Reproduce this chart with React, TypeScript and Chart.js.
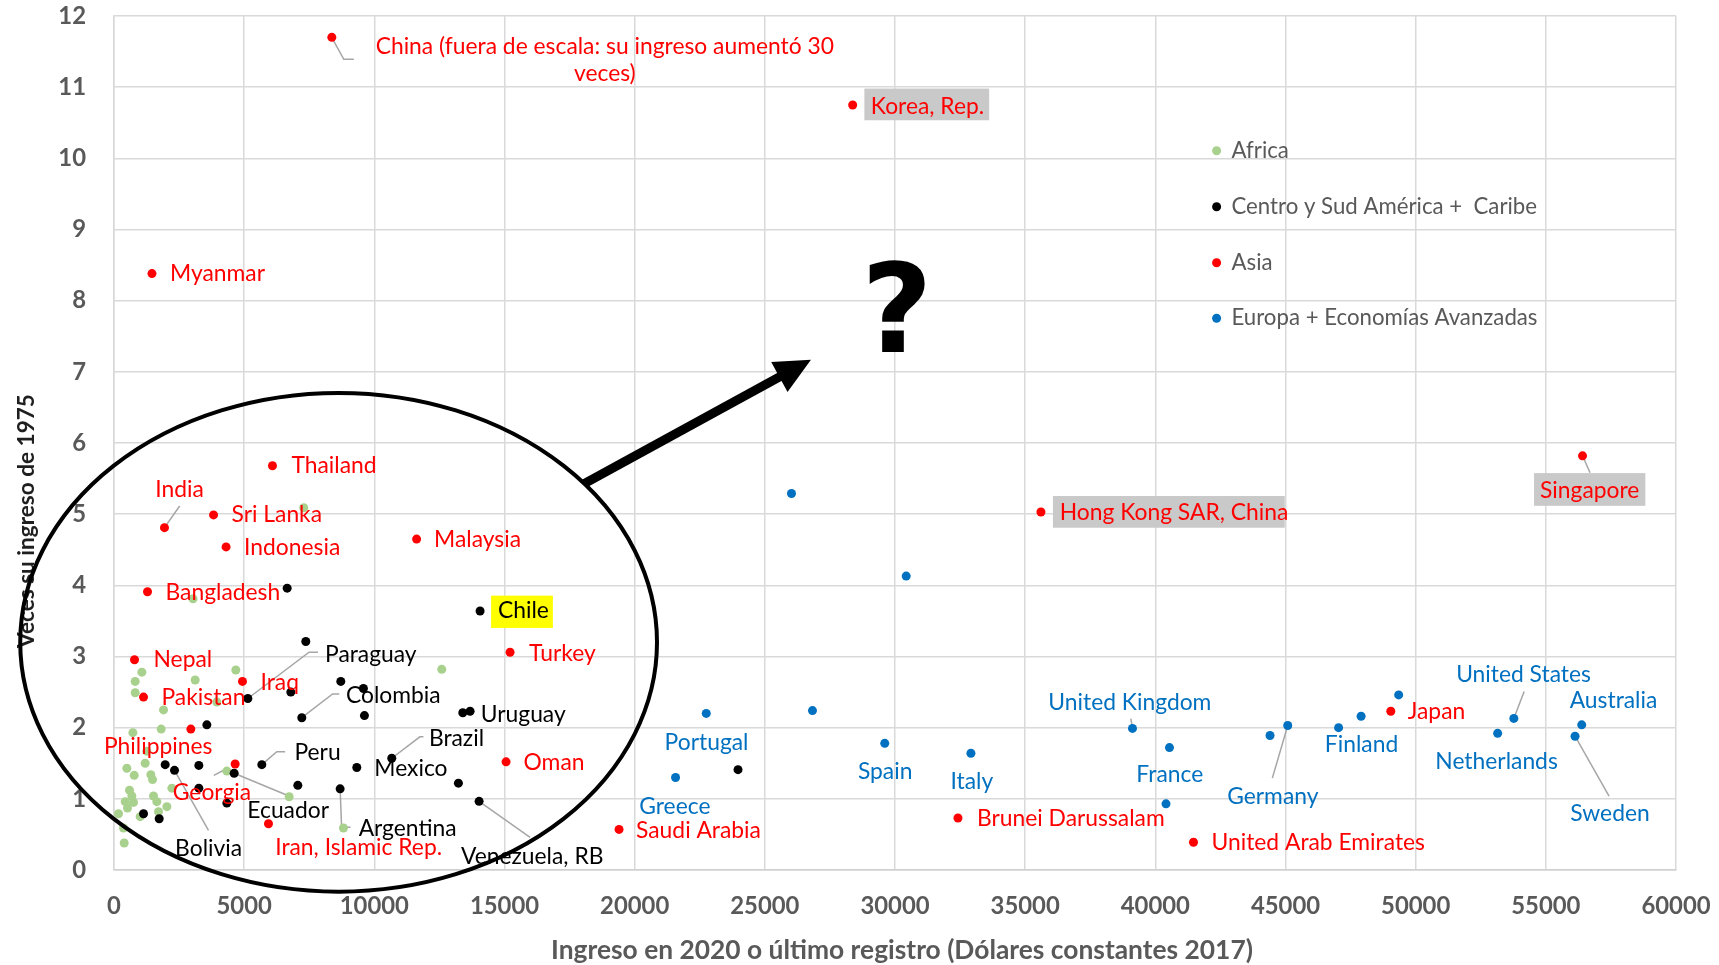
import React, { useEffect, useRef } from "react";
import { Chart, registerables } from "chart.js";

Chart.register(...registerables);

// ---------- axes ----------
const X_MIN = 0;
const X_MAX = 60000;
const X_STEP = 5000;
const Y_MIN = 0;
const Y_MAX = 12;
const Y_STEP = 1;
const X_TITLE = "Ingreso en 2020 o último registro (Dólares constantes 2017)";
const Y_TITLE = "Veces su ingreso de 1975";

// ---------- series ----------
const seriesNames = ["Africa", "Centro y Sud América +  Caribe", "Asia", "Europa + Economías Avanzadas"];
const seriesColors = ["#a9d18e", "#000000", "#ff0000", "#0070c0"];
const labelColors = ["#000000", "#000000", "#ff0000", "#0070c0"];

const africaIncome = [3036, 7288, 12590, 1070, 814, 814, 3118, 4680, 3950, 1902, 1812, 725, 1262, 1198, 494, 776, 1416, 1480, 4334, 2223, 6728, 8814, 596, 686, 430, 749, 518, 173, 1006, 365, 392, 1517, 1646, 2031, 1710];
const africaRatio = [3.81, 5.09, 2.82, 2.78, 2.65, 2.49, 2.67, 2.81, 2.36, 2.25, 1.98, 1.93, 1.67, 1.5, 1.43, 1.33, 1.34, 1.27, 1.39, 1.15, 1.03, 0.59, 1.12, 1.04, 0.96, 0.95, 0.87, 0.79, 0.75, 0.59, 0.38, 1.04, 0.96, 0.89, 0.82];
const africaNames: string[] = [];

const centroNames = ["Chile", "", "", "Paraguay", "", "", "", "Colombia", "", "", "Uruguay", "", "", "Bolivia", "", "Ecuador", "Peru", "Mexico", "Brazil", "", "", "Argentina", "", "", "Venezuela, RB", "", "", ""];
const centroIncome = [14062, 6652, 7368, 5141, 6792, 8712, 9581, 7214, 9620, 13398, 13678, 3567, 1966, 2324, 3259, 4616, 5678, 9326, 10670, 13229, 7061, 8686, 3259, 4334, 14024, 1134, 1736, 23970];
const centroRatio = [3.64, 3.96, 3.21, 2.41, 2.5, 2.65, 2.55, 2.14, 2.17, 2.21, 2.23, 2.04, 1.48, 1.4, 1.47, 1.36, 1.48, 1.44, 1.57, 1.22, 1.19, 1.14, 1.15, 0.94, 0.965, 0.79, 0.72, 1.41];

const asiaNames = ["China (fuera de escala: su ingreso aumentó 30\nveces)", "Korea, Rep.", "Myanmar", "Thailand", "India", "Sri Lanka", "Indonesia", "Malaysia", "Bangladesh", "Hong Kong SAR, China", "Singapore", "Turkey", "Nepal", "Iraq", "Pakistan", "Philippines", "Georgia", "Oman", "Iran, Islamic Rep.", "Saudi Arabia", "Brunei Darussalam", "United Arab Emirates", "Japan"];
const asiaIncome = [8367, 28374, 1459, 6087, 1939, 3824, 4305, 11624, 1287, 35606, 56410, 15214, 788, 4935, 1134, 2952, 4654, 15060, 5934, 19400, 32418, 41466, 49045];
const asiaRatio = [11.7, 10.75, 8.38, 5.68, 4.81, 4.99, 4.54, 4.65, 3.91, 5.03, 5.82, 3.06, 2.955, 2.65, 2.43, 1.98, 1.49, 1.52, 0.65, 0.57, 0.73, 0.39, 2.23];

const europaNames = ["", "", "Portugal", "", "Greece", "Spain", "Italy", "United Kingdom", "France", "", "", "Germany", "", "Finland", "", "Netherlands", "United States", "Australia", "Sweden"];
const europaIncome = [26024, 30430, 22750, 26830, 21570, 29606, 32916, 39122, 40543, 40410, 44406, 45086, 47040, 47904, 49347, 53149, 53771, 56378, 56122];
const europaRatio = [5.29, 4.13, 2.2, 2.24, 1.3, 1.78, 1.64, 1.99, 1.72, 0.93, 1.89, 2.03, 2.0, 2.16, 2.46, 1.92, 2.13, 2.04, 1.88];

// ---------- label layout (pixel offsets from the point) ----------
type LabelSpec = {
  dx: number;
  dy: number;
  align?: "left" | "center";
  leader?: number[][];
  box?: number[];
  boxColor?: string;
  lineH?: number;
};
const labelLayout: Record<string, LabelSpec> = {
  "China (fuera de escala: su ingreso aumentó 30\nveces)": { dx: 273, dy: 9.4, align: "center", lineH: 26.6, leader: [[1, 2], [12, 22], [22, 22]] },
  "Korea, Rep.": { dx: 18.2, dy: 1.3, box: [11.7, -16.4, 136.5, 15.3], boxColor: "#c9c9c9" },
  Myanmar: { dx: 18, dy: 0 },
  Thailand: { dx: 19, dy: 0 },
  India: { dx: 15, dy: -38.4, align: "center", leader: [[0, 0], [15.2, -21.7]] },
  "Sri Lanka": { dx: 18, dy: 0 },
  Indonesia: { dx: 18, dy: 1 },
  Malaysia: { dx: 17.5, dy: 0.7 },
  Bangladesh: { dx: 18, dy: 1 },
  "Hong Kong SAR, China": { dx: 18.8, dy: 0.7, box: [12, -16, 243.8, 15.7], boxColor: "#c9c9c9" },
  Singapore: { dx: 7.2, dy: 34.7, align: "center", box: [-48.5, 17.3, 62.8, 50], boxColor: "#c9c9c9", leader: [[0, 0], [7.5, 17]] },
  Turkey: { dx: 19, dy: 1 },
  Nepal: { dx: 19, dy: 0 },
  Iraq: { dx: 18, dy: 1 },
  Pakistan: { dx: 18, dy: 0.5 },
  Philippines: { dx: -32.7, dy: 17.4, align: "center" },
  Georgia: { dx: -23.2, dy: 29, align: "center", leader: [[-21.4, 11.4], [-7.1, 4]] },
  Oman: { dx: 17.5, dy: 1 },
  "Iran, Islamic Rep.": { dx: 6.7, dy: 23.7 },
  "Saudi Arabia": { dx: 17, dy: 1 },
  "Brunei Darussalam": { dx: 19, dy: 1 },
  "United Arab Emirates": { dx: 18, dy: 0.6 },
  Japan: { dx: 17, dy: 0.6 },
  Chile: { dx: 17.9, dy: 0, box: [11, -15.3, 72.8, 17], boxColor: "#ffff00" },
  Paraguay: { dx: 77.2, dy: -44, leader: [[0, 0], [61.2, -46.3], [70.1, -46.3]] },
  Colombia: { dx: 44.2, dy: -22, leader: [[0, 0], [30.8, -23.7], [37.5, -23.7]] },
  Uruguay: { dx: 10.7, dy: 3.3 },
  Brazil: { dx: 37.1, dy: -19.7, leader: [[0, 0], [28.1, -21.4], [31.7, -21.4]] },
  Peru: { dx: 32.6, dy: -12, leader: [[0, 0], [15, -13], [23.3, -13]] },
  Mexico: { dx: 17.5, dy: 1.3 },
  Ecuador: { dx: 54, dy: 37.4, align: "center", leader: [[0, 0], [53, 22]] },
  Bolivia: { dx: 34.1, dy: 78.7, align: "center", leader: [[0, 0], [34, 60]] },
  Argentina: { dx: 18.5, dy: 39.7, leader: [[0, 0], [1.5, 38.4], [10.4, 38.4]] },
  "Venezuela, RB": { dx: 53.1, dy: 55, align: "center", leader: [[0, 0], [51, 36]] },
  Portugal: { dx: 0.3, dy: 28.7, align: "center" },
  Greece: { dx: -0.7, dy: 28.7, align: "center" },
  Spain: { dx: 0.4, dy: 28.6, align: "center" },
  Italy: { dx: 0.9, dy: 28, align: "center" },
  "United Kingdom": { dx: -2.6, dy: -25.4, align: "center", leader: [[0, 0], [-1.6, -9.7]] },
  France: { dx: 0.3, dy: 27.3, align: "center" },
  Germany: { dx: -14.9, dy: 71, align: "center", leader: [[0, 0], [-15.4, 52.6]] },
  Finland: { dx: 0.4, dy: 28.3, align: "center" },
  Netherlands: { dx: -1.1, dy: 28.3, align: "center" },
  "United States": { dx: 9.7, dy: -43.7, align: "center", leader: [[0, 0], [10.3, -27]] },
  Australia: { dx: 31.8, dy: -24, align: "center" },
  Sweden: { dx: 35, dy: 77.6, align: "center", leader: [[0, 0], [34, 60]] },
};

// ---------- annotations (data coordinates) ----------
const ellipseCenter = [8628, 3.2];
const ellipseRadii = [12230, 3.504];
const arrowFrom = [18075, 5.43];
const arrowTo = [26772, 7.17];
const questionAt = [30074, 7.28];

const FONT = "Lato";

function toPoints(xs: number[], ys: number[]) {
  return xs.map((x, i) => ({ x, y: ys[i] }));
}

export default function App() {
  const ref = useRef<HTMLCanvasElement>(null);

  useEffect(() => {
    document.body.style.margin = "0";
    document.body.style.overflow = "hidden";
    const canvas = ref.current!;
    const mctx = document.createElement("canvas").getContext("2d")!;
    const fit = (weight: string, sample: string, target: number) => {
      mctx.font = `${weight} 100px ${FONT}`;
      return (100 * target) / mctx.measureText(sample).width;
    };
    const labelSize = fit("normal", "Myanmar", 95);
    const legendSize = fit("normal", "Centro y Sud América +  Caribe", 305.7);
    const tickSize = fit("bold", "15000", 69.3);
    const xTitleSize = fit("bold", X_TITLE, 702);
    const yTitleSize = fit("bold", Y_TITLE, 254);

    const namesBySeries = [africaNames, centroNames, asiaNames, europaNames];

    const forEachLabel = (chart: any, fn: (ctx: CanvasRenderingContext2D, px: number, py: number, name: string, spec: LabelSpec, color: string) => void) => {
      const ctx = chart.ctx as CanvasRenderingContext2D;
      const xs = chart.scales.x;
      const ys = chart.scales.y;
      chart.data.datasets.forEach((ds: any, di: number) => {
        const names = namesBySeries[di];
        ds.data.forEach((p: any, i: number) => {
          const name = names[i];
          if (!name) return;
          const spec = labelLayout[name];
          if (!spec) return;
          fn(ctx, xs.getPixelForValue(p.x), ys.getPixelForValue(p.y), name, spec, labelColors[di]);
        });
      });
    };

    const annot = {
      id: "annot",
      beforeDatasetsDraw(chart: any) {
        forEachLabel(chart, (ctx, px, py, _name, spec) => {
          if (!spec.leader) return;
          ctx.save();
          ctx.strokeStyle = "#a6a6a6";
          ctx.lineWidth = 1.5;
          ctx.beginPath();
          spec.leader.forEach((pt, k) => {
            if (k === 0) ctx.moveTo(px + pt[0], py + pt[1]);
            else ctx.lineTo(px + pt[0], py + pt[1]);
          });
          ctx.stroke();
          ctx.restore();
        });
      },
      afterDatasetsDraw(chart: any) {
        forEachLabel(chart, (ctx, px, py, name, spec, color) => {
          ctx.save();
          if (spec.box) {
            ctx.fillStyle = spec.boxColor || "#c9c9c9";
            ctx.fillRect(px + spec.box[0], py + spec.box[1], spec.box[2] - spec.box[0], spec.box[3] - spec.box[1]);
          }
          ctx.font = `${labelSize}px ${FONT}`;
          ctx.fillStyle = name === "Chile" ? "#000000" : color;
          ctx.textAlign = spec.align === "center" ? "center" : "left";
          ctx.textBaseline = "middle";
          const lines = name.split("\n");
          lines.forEach((ln, k) => {
            ctx.fillText(ln, px + spec.dx, py + spec.dy + k * (spec.lineH || 0));
          });
          ctx.restore();
        });
      },
      afterDraw(chart: any) {
        const ctx = chart.ctx as CanvasRenderingContext2D;
        const area = chart.chartArea;
        const xs = chart.scales.x;
        const ys = chart.scales.y;
        ctx.save();
        // legend
        const legendRows = [150.7, 206.7, 262.7, 318.3];
        seriesNames.forEach((n, i) => {
          const cy = area.top + (legendRows[i] - 16);
          const mx = area.left + (1216.6 - 114);
          ctx.fillStyle = seriesColors[i];
          ctx.beginPath();
          ctx.arc(mx, cy, 4.5, 0, Math.PI * 2);
          ctx.fill();
          ctx.fillStyle = "#595959";
          ctx.font = `${legendSize}px ${FONT}`;
          ctx.textAlign = "left";
          ctx.textBaseline = "middle";
          ctx.fillText(n, area.left + (1231.5 - 114), cy);
        });
        // axis titles
        ctx.fillStyle = "#595959";
        ctx.font = `bold ${xTitleSize}px ${FONT}`;
        ctx.textAlign = "center";
        ctx.textBaseline = "alphabetic";
        ctx.fillText(X_TITLE, 902, 959);
        ctx.save();
        ctx.translate(34, 521);
        ctx.rotate(-Math.PI / 2);
        ctx.fillStyle = "#1f1f1f";
        ctx.font = `bold ${yTitleSize}px ${FONT}`;
        ctx.fillText(Y_TITLE, 0, 0);
        ctx.restore();
        // ellipse
        const ecx = xs.getPixelForValue(ellipseCenter[0]);
        const ecy = ys.getPixelForValue(ellipseCenter[1]);
        const erx = xs.getPixelForValue(ellipseCenter[0] + ellipseRadii[0]) - ecx;
        const ery = ecy - ys.getPixelForValue(ellipseCenter[1] + ellipseRadii[1]);
        ctx.strokeStyle = "#000000";
        ctx.lineWidth = 4;
        ctx.beginPath();
        ctx.ellipse(ecx, ecy, erx, ery, 0, 0, Math.PI * 2);
        ctx.stroke();
        // arrow
        const ax0 = xs.getPixelForValue(arrowFrom[0]);
        const ay0 = ys.getPixelForValue(arrowFrom[1]);
        const ax1 = xs.getPixelForValue(arrowTo[0]);
        const ay1 = ys.getPixelForValue(arrowTo[1]);
        const ang = Math.atan2(ay1 - ay0, ax1 - ax0);
        const headL = 36;
        const headW = 17;
        const bx = ax1 - headL * Math.cos(ang);
        const by = ay1 - headL * Math.sin(ang);
        ctx.lineWidth = 9;
        ctx.beginPath();
        ctx.moveTo(ax0, ay0);
        ctx.lineTo(bx + 2 * Math.cos(ang), by + 2 * Math.sin(ang));
        ctx.stroke();
        ctx.fillStyle = "#000000";
        ctx.beginPath();
        ctx.moveTo(ax1, ay1);
        ctx.lineTo(bx - headW * Math.sin(ang), by + headW * Math.cos(ang));
        ctx.lineTo(bx + headW * Math.sin(ang), by - headW * Math.cos(ang));
        ctx.closePath();
        ctx.fill();
        // question mark
        ctx.font = `bold 123px "DejaVu Sans"`;
        ctx.textAlign = "center";
        ctx.textBaseline = "alphabetic";
        ctx.fillText("?", xs.getPixelForValue(questionAt[0]), ys.getPixelForValue(questionAt[1]));
        ctx.restore();
      },
    };

    const mk = (label: string, xs: number[], ys: number[], color: string, order: number) => ({
      label,
      data: toPoints(xs, ys),
      backgroundColor: color,
      borderColor: color,
      borderWidth: 0,
      pointRadius: 4.5,
      pointHoverRadius: 4.5,
      order,
    });

    const plain = (v: any) => String(v);

    const chart = new Chart(canvas, {
      type: "scatter",
      data: {
        datasets: [
          mk(seriesNames[0], africaIncome, africaRatio, seriesColors[0], 4),
          mk(seriesNames[1], centroIncome, centroRatio, seriesColors[1], 3),
          mk(seriesNames[2], asiaIncome, asiaRatio, seriesColors[2], 2),
          mk(seriesNames[3], europaIncome, europaRatio, seriesColors[3], 1),
        ],
      },
      options: {
        animation: false,
        responsive: false,
        devicePixelRatio: 1,
        events: [],
        layout: { padding: { top: 16, right: 43, bottom: 0, left: 0 } },
        plugins: { legend: { display: false }, tooltip: { enabled: false }, title: { display: false } },
        scales: {
          x: {
            type: "linear",
            min: X_MIN,
            max: X_MAX,
            afterFit: (s: any) => { s.height = 95; },
            ticks: {
              stepSize: X_STEP,
              autoSkip: false,
              maxRotation: 0,
              padding: 0,
              callback: plain,
              color: "#595959",
              font: { family: FONT, weight: "bold", size: tickSize },
            },
            grid: { color: "#d9d9d9", lineWidth: 1.5, drawTicks: true, tickLength: 22, tickColor: "rgba(0,0,0,0)" },
            border: { display: true, color: "#d0d0d0", width: 1.5 },
            title: { display: false },
          },
          y: {
            type: "linear",
            min: Y_MIN,
            max: Y_MAX,
            afterFit: (s: any) => { s.width = 114; },
            ticks: {
              stepSize: Y_STEP,
              autoSkip: false,
              padding: 0,
              callback: plain,
              color: "#595959",
              font: { family: FONT, weight: "bold", size: tickSize },
            },
            grid: { color: "#d9d9d9", lineWidth: 1.5, drawTicks: true, tickLength: 28, tickColor: "rgba(0,0,0,0)" },
            border: { display: true, color: "#d9d9d9", width: 1.5 },
            title: { display: false },
          },
        },
      },
      plugins: [annot],
    } as any);

    return () => chart.destroy();
  }, []);

  return <canvas ref={ref} width={1719} height={965} style={{ display: "block", width: "1719px", height: "965px" }} />;
}
